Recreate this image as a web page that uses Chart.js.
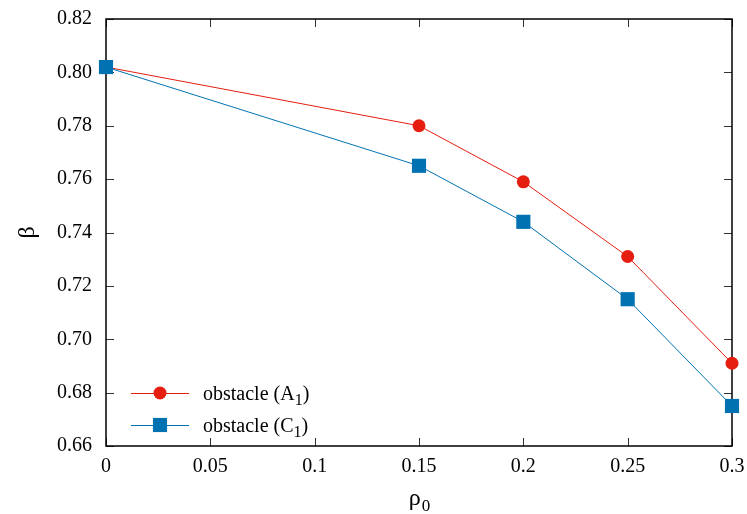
<!DOCTYPE html>
<html><head><meta charset="utf-8">
<script src="https://cdn.jsdelivr.net/npm/chart.js@4/dist/chart.umd.min.js"></script>
<style>html,body{margin:0;padding:0;background:#fff}#wrap{width:747px;height:514px}</style>
</head><body><div id="wrap"><canvas id="c" width="747" height="514"></canvas></div>
<script>
// ---- data ----
const rho0 = [0, 0.15, 0.2, 0.25, 0.3];
const betaA1 = [0.802, 0.780, 0.759, 0.731, 0.691];
const betaC1 = [0.802, 0.765, 0.744, 0.715, 0.675];
const xTicks = [0, 0.05, 0.1, 0.15, 0.2, 0.25, 0.3];
const xTickLabels = ['0', '0.05', '0.1', '0.15', '0.2', '0.25', '0.3'];
const yTicks = [0.66, 0.68, 0.70, 0.72, 0.74, 0.76, 0.78, 0.80, 0.82];
const yTickLabels = ['0.66', '0.68', '0.70', '0.72', '0.74', '0.76', '0.78', '0.80', '0.82'];
const seriesNames = ['obstacle (A₁)', 'obstacle (C₁)'];
const legendParts = [['obstacle (A', '1', ')'], ['obstacle (C', '1', ')']];
const xTitleParts = ['ρ', '0'];
const yTitle = 'β';

const FONT = "'Liberation Serif', 'DejaVu Serif', serif";
const RED = '#e51e10', BLUE = '#0072b2';

const framePlugin = {
  id: 'frame',
  beforeDatasetsDraw(chart) {
    const {ctx, chartArea: a, scales: {x, y}} = chart;
    ctx.save();
    ctx.strokeStyle = '#333';
    ctx.lineWidth = 1;
    ctx.beginPath();
    const L = 8;
    xTicks.forEach(v => {
      const px = Math.round(x.getPixelForValue(v)) + 0.5;
      ctx.moveTo(px, a.bottom); ctx.lineTo(px, a.bottom - L);
      ctx.moveTo(px, a.top); ctx.lineTo(px, a.top + L);
    });
    yTicks.forEach(v => {
      const py = Math.round(y.getPixelForValue(v)) + 0.5;
      ctx.moveTo(a.left, py); ctx.lineTo(a.left + L, py);
      ctx.moveTo(a.right, py); ctx.lineTo(a.right - L, py);
    });
    ctx.stroke();
    ctx.strokeStyle = '#000';
    ctx.lineWidth = 1.5;
    ctx.strokeRect(a.left, a.top, a.right - a.left, a.bottom - a.top);
    ctx.restore();
  },
  afterDatasetsDraw(chart) {
    const {ctx, chartArea: a, scales: {x}} = chart;
    ctx.save();
    const rows = [a.bottom - 53, a.bottom - 21];
    chart.data.datasets.forEach((ds, i) => {
      const yy = rows[i];
      ctx.strokeStyle = ds.borderColor;
      ctx.lineWidth = 1;
      ctx.beginPath();
      ctx.moveTo(a.left + 25, yy + 0.5); ctx.lineTo(a.left + 83, yy + 0.5);
      ctx.stroke();
      ctx.fillStyle = ds.backgroundColor;
      ctx.strokeStyle = ds.backgroundColor;
      Chart.helpers.drawPoint(ctx, {pointStyle: ds.pointStyle, radius: ds.pointRadius, rotation: 0, borderWidth: 0}, a.left + 54, yy);
      const parts = legendParts[i];
      let tx = a.left + 97;
      ctx.fillStyle = '#000';
      ctx.textBaseline = 'alphabetic';
      ctx.textAlign = 'left';
      ctx.font = '20px ' + FONT;
      const base = yy + 7;
      ctx.fillText(parts[0], tx, base); tx += ctx.measureText(parts[0]).width;
      ctx.font = '16px ' + FONT;
      ctx.fillText(parts[1], tx, base + 5); tx += ctx.measureText(parts[1]).width;
      ctx.font = '20px ' + FONT;
      ctx.fillText(parts[2], tx, base);
    });
    // x axis title with subscript
    ctx.fillStyle = '#000';
    ctx.textBaseline = 'alphabetic';
    ctx.textAlign = 'left';
    ctx.font = '24px ' + FONT;
    const w1 = ctx.measureText(xTitleParts[0]).width;
    ctx.font = '17px ' + FONT;
    const w2 = ctx.measureText(xTitleParts[1]).width;
    const cx = (a.left + a.right) / 2;
    const sx = cx - (w1 + w2) / 2;
    const baseY = x.bottom - 9;
    ctx.font = '24px ' + FONT;
    ctx.fillText(xTitleParts[0], sx, baseY);
    ctx.font = '17px ' + FONT;
    ctx.fillText(xTitleParts[1], sx + w1 + 1, baseY + 6);
    ctx.restore();
  }
};

const tickFont = {family: FONT, size: 20};
new Chart(document.getElementById('c'), {
  type: 'scatter',
  data: {
    datasets: [
      {label: seriesNames[0], data: rho0.map((v, i) => ({x: v, y: betaA1[i]})),
       borderColor: RED, backgroundColor: RED, borderWidth: 1, showLine: true,
       pointStyle: 'circle', pointRadius: 6.5, pointBorderWidth: 0, pointHoverRadius: 6.5,
       clip: false, order: 2},
      {label: seriesNames[1], data: rho0.map((v, i) => ({x: v, y: betaC1[i]})),
       borderColor: BLUE, backgroundColor: BLUE, borderWidth: 1, showLine: true,
       pointStyle: 'rect', pointRadius: 10, pointBorderWidth: 0, pointHoverRadius: 10,
       clip: false, order: 1}
    ]
  },
  options: {
    responsive: false, animation: false, devicePixelRatio: 1,
    layout: {padding: {left: 0, right: 15, top: 19, bottom: 0}},
    plugins: {legend: {display: false}, tooltip: {enabled: false}},
    scales: {
      x: {
        type: 'linear', min: 0, max: 0.3,
        afterBuildTicks(s) { s.ticks = xTicks.map(v => ({value: v})); },
        afterFit(s) { s.height = 68; s.paddingLeft = 0; s.paddingRight = 0; },
        ticks: {callback: (v, i) => xTickLabels[i], font: tickFont, color: '#000', padding: 9, maxRotation: 0, autoSkip: false},
        grid: {display: false, drawTicks: false},
        border: {display: false},
        title: {display: false}
      },
      y: {
        type: 'linear', min: 0.66, max: 0.82,
        afterBuildTicks(s) { s.ticks = yTicks.map(v => ({value: v})); },
        afterFit(s) { s.width = 106; s.paddingTop = 0; s.paddingBottom = 0; },
        ticks: {callback: (v, i) => yTickLabels[i], font: tickFont, color: '#000', padding: 14, autoSkip: false},
        grid: {display: false, drawTicks: false},
        border: {display: false},
        title: {display: true, text: yTitle, font: {family: FONT, size: 24}, color: '#000', padding: {top: 13, bottom: 0}}
      }
    }
  },
  plugins: [framePlugin]
});
</script>
</body></html>
